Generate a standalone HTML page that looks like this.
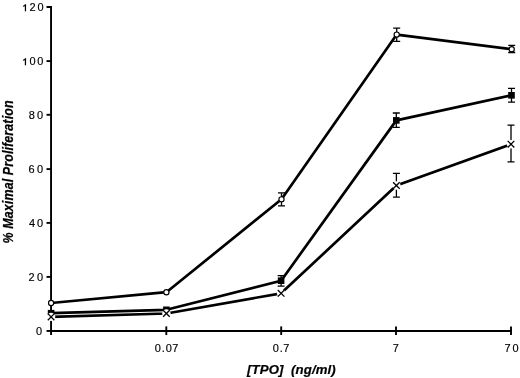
<!DOCTYPE html>
<html><head><meta charset="utf-8"><style>
html,body{margin:0;padding:0;background:#fff;}
svg{display:block;filter:grayscale(1) blur(0.3px);}
.t{font-family:"Liberation Sans",sans-serif;font-size:10px;fill:#000;stroke:#000;stroke-width:0.15px;}
.ti{font-family:"Liberation Sans",sans-serif;font-size:12px;font-weight:bold;font-style:italic;fill:#000;stroke:#000;stroke-width:0.2px;}
</style></head><body>
<svg width="520" height="378" viewBox="0 0 520 378">
<path d="M46.5,7H51.05V335" fill="none" stroke="#000" stroke-width="1.9"/>
<line x1="50.2" y1="331" x2="512" y2="331" stroke="#000" stroke-width="1.9"/>
<line x1="46.5" y1="61.10" x2="51" y2="61.10" stroke="#000" stroke-width="1.9"/>
<line x1="46.5" y1="114.80" x2="51" y2="114.80" stroke="#000" stroke-width="1.9"/>
<line x1="46.5" y1="169.10" x2="51" y2="169.10" stroke="#000" stroke-width="1.9"/>
<line x1="46.5" y1="222.90" x2="51" y2="222.90" stroke="#000" stroke-width="1.9"/>
<line x1="46.5" y1="276.90" x2="51" y2="276.90" stroke="#000" stroke-width="1.9"/>
<line x1="46.5" y1="330.95" x2="51" y2="330.95" stroke="#000" stroke-width="1.9"/>
<path d="M26.00,11.2V4.20H25.05C24.80,5.10 24.00,5.60 23.15,5.75V6.65C24.00,6.60 24.50,6.30 24.90,6.00V11.2Z" fill="#000" stroke="#000" stroke-width="0.15"/><text transform="translate(29.55,11.2) scale(1.1,1)" class="t">2</text><text transform="translate(37.62,11.2) scale(1.1,1)" class="t">0</text>
<path d="M26.00,65.2V58.20H25.05C24.80,59.10 24.00,59.60 23.15,59.75V60.65C24.00,60.60 24.50,60.30 24.90,60.00V65.2Z" fill="#000" stroke="#000" stroke-width="0.15"/><text transform="translate(29.62,65.2) scale(1.1,1)" class="t">0</text><text transform="translate(37.32,65.2) scale(1.1,1)" class="t">0</text>
<text transform="translate(28.67,119.1) scale(1.1,1)" class="t">8</text><text transform="translate(37.02,119.1) scale(1.1,1)" class="t">0</text>
<text transform="translate(28.59,173.2) scale(1.1,1)" class="t">6</text><text transform="translate(37.02,173.2) scale(1.1,1)" class="t">0</text>
<text transform="translate(28.90,227.1) scale(1.1,1)" class="t">4</text><text transform="translate(37.02,227.1) scale(1.1,1)" class="t">0</text>
<text transform="translate(28.60,281.2) scale(1.1,1)" class="t">2</text><text transform="translate(37.02,281.2) scale(1.1,1)" class="t">0</text>
<text transform="translate(35.92,335.2) scale(1.1,1)" class="t">0</text>
<line x1="166.3" y1="326.4" x2="166.3" y2="335" stroke="#000" stroke-width="1.9"/>
<line x1="281.2" y1="326.4" x2="281.2" y2="335" stroke="#000" stroke-width="1.9"/>
<line x1="396.0" y1="326.4" x2="396.0" y2="335" stroke="#000" stroke-width="1.9"/>
<line x1="511.0" y1="326.4" x2="511.0" y2="335" stroke="#000" stroke-width="1.9"/>
<text transform="translate(154.82,351.8) scale(1.1,1)" class="t">0</text><text transform="translate(161.75,351.8) scale(1.1,1)" class="t">.</text><text transform="translate(165.82,351.8) scale(1.1,1)" class="t">0</text><text transform="translate(172.19,351.8) scale(1.1,1)" class="t">7</text>
<text transform="translate(272.82,351.8) scale(1.1,1)" class="t">0</text><text transform="translate(279.75,351.8) scale(1.1,1)" class="t">.</text><text transform="translate(283.29,351.8) scale(1.1,1)" class="t">7</text>
<text transform="translate(392.79,351.7) scale(1.1,1)" class="t">7</text>
<text transform="translate(504.49,351.9) scale(1.1,1)" class="t">7</text><text transform="translate(512.62,351.9) scale(1.1,1)" class="t">0</text>
<polyline points="51.1,303 166.4,292.2 281.5,199.3 396.7,34.6 511.7,49.2" fill="none" stroke="#000" stroke-width="2.7" stroke-linejoin="round"/>
<polyline points="51.1,313.2 166.4,309.8 281.1,280.7 396.3,120.4 511.5,95.3" fill="none" stroke="#000" stroke-width="2.7" stroke-linejoin="round"/>
<polyline points="51.1,316.9 166.4,313.5 281.1,293.3 396.4,185.5 511.0,144.2" fill="none" stroke="#000" stroke-width="2.7" stroke-linejoin="round"/>
<path d="M278.0,192.9H285.0M281.5,192.9V205.8M278.0,205.8H285.0" stroke="#000" stroke-width="1.3" fill="none"/>
<path d="M393.2,28.1H400.2M396.7,28.1V41.3M393.2,41.3H400.2" stroke="#000" stroke-width="1.3" fill="none"/>
<path d="M508.2,45.4H515.2M511.7,45.4V52.5M508.2,52.5H515.2" stroke="#000" stroke-width="1.3" fill="none"/>
<path d="M277.6,275.6H284.6M281.1,275.6V286.1M277.6,286.1H284.6" stroke="#000" stroke-width="1.3" fill="none"/>
<path d="M392.8,113H399.8M396.3,113V127.3M392.8,127.3H399.8" stroke="#000" stroke-width="1.3" fill="none"/>
<path d="M508.0,88.3H515.0M511.5,88.3V102.2M508.0,102.2H515.0" stroke="#000" stroke-width="1.3" fill="none"/>
<path d="M392.9,173.3H399.9M396.4,173.3V197.2M392.9,197.2H399.9" stroke="#000" stroke-width="1.3" fill="none"/>
<path d="M507.5,125.2H514.5M511.0,125.2V161.8M507.5,161.8H514.5" stroke="#000" stroke-width="1.3" fill="none"/>
<rect x="47.800000000000004" y="309.9" width="6.6" height="6.6" fill="#000"/>
<rect x="163.1" y="306.5" width="6.6" height="6.6" fill="#000"/>
<rect x="277.8" y="277.4" width="6.6" height="6.6" fill="#000"/>
<rect x="393.0" y="117.10000000000001" width="6.6" height="6.6" fill="#000"/>
<rect x="508.2" y="92.0" width="6.6" height="6.6" fill="#000"/>
<circle cx="51.1" cy="316.9" r="4.2" fill="#fff"/>
<path d="M47.800000000000004,313.59999999999997L54.4,320.2M54.4,313.59999999999997L47.800000000000004,320.2" stroke="#000" stroke-width="1.3"/>
<circle cx="166.4" cy="313.5" r="4.2" fill="#fff"/>
<path d="M163.1,310.2L169.70000000000002,316.8M169.70000000000002,310.2L163.1,316.8" stroke="#000" stroke-width="1.3"/>
<circle cx="281.1" cy="293.3" r="4.2" fill="#fff"/>
<path d="M277.8,290.0L284.40000000000003,296.6M284.40000000000003,290.0L277.8,296.6" stroke="#000" stroke-width="1.3"/>
<circle cx="396.4" cy="185.5" r="4.2" fill="#fff"/>
<path d="M393.09999999999997,182.2L399.7,188.8M399.7,182.2L393.09999999999997,188.8" stroke="#000" stroke-width="1.3"/>
<circle cx="511.0" cy="144.2" r="4.2" fill="#fff"/>
<path d="M507.7,140.89999999999998L514.3,147.5M514.3,140.89999999999998L507.7,147.5" stroke="#000" stroke-width="1.3"/>
<circle cx="51.1" cy="303" r="2.6" fill="#fff" stroke="#000" stroke-width="1.15"/>
<circle cx="166.4" cy="292.2" r="2.6" fill="#fff" stroke="#000" stroke-width="1.15"/>
<circle cx="281.5" cy="199.3" r="2.6" fill="#fff" stroke="#000" stroke-width="1.15"/>
<circle cx="396.7" cy="34.6" r="2.6" fill="#fff" stroke="#000" stroke-width="1.15"/>
<circle cx="511.7" cy="49.2" r="2.6" fill="#fff" stroke="#000" stroke-width="1.15"/>
<text transform="translate(247.1,373.5) scale(1.1,1)" class="ti" style="letter-spacing:0.1px">[TPO]&#160;&#160;(ng/ml)</text>
<text transform="translate(13.0,243.5) scale(1.1,1) rotate(-90)" class="ti" style="font-size:12.5px;letter-spacing:0.1px">% Maximal Proliferation</text>
</svg>
</body></html>
